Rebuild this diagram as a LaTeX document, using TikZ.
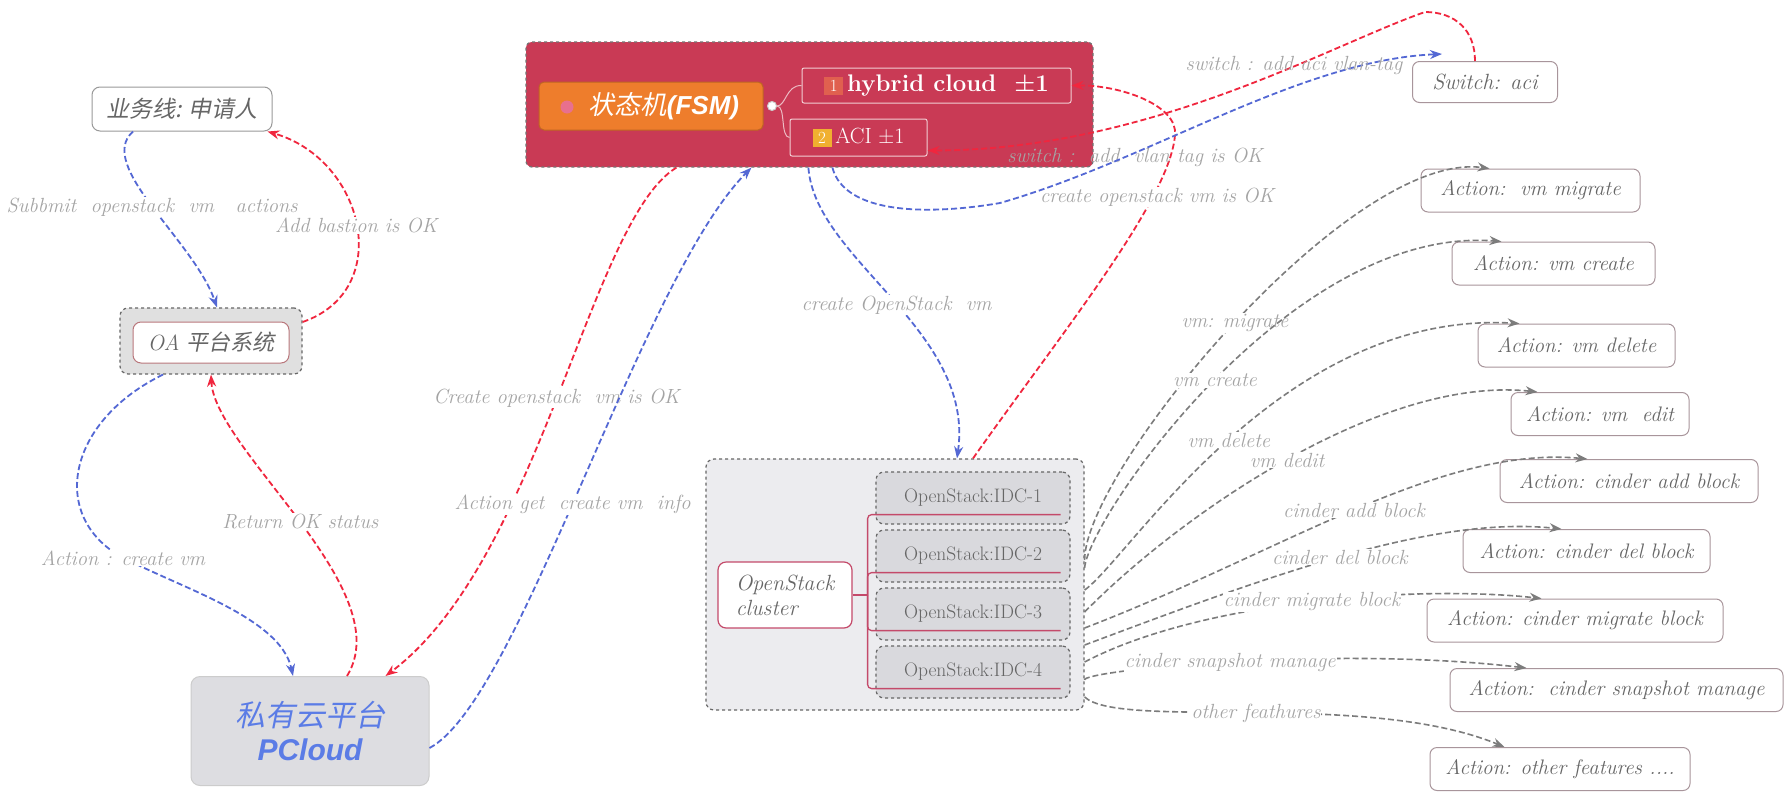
\documentclass[tikz,border=0pt]{standalone}
\usepackage{fontspec}
\newfontfamily\cjkit{Noto Sans CJK SC}[FakeSlant=0.2]
\newfontfamily\sansit{Liberation Sans}
\usetikzlibrary{arrows.meta,positioning}

\definecolor{fsmred}{HTML}{C93A55}
\definecolor{fsmorange}{HTML}{EE7D2C}
\definecolor{dotpink}{HTML}{E8708E}
\definecolor{tagone}{HTML}{E0604F}
\definecolor{tagtwo}{HTML}{F0B030}
\definecolor{linkred}{HTML}{F0263E}
\definecolor{linkblue}{HTML}{5468D4}
\definecolor{linkgray}{HTML}{7C7C7C}
\definecolor{lblgray}{HTML}{A4A4A4}
\definecolor{textgray}{HTML}{666666}
\definecolor{boxedge}{HTML}{A8959B}
\definecolor{idcfill}{HTML}{D9D9DD}
\definecolor{clfill}{HTML}{ECECEF}
\definecolor{pcfill}{HTML}{DDDDE1}
\definecolor{pcblue}{HTML}{5B7CE6}
\definecolor{branchred}{HTML}{C44A6A}

\newcommand{\numtag}[2]{{\setlength{\fboxsep}{3.5pt}\colorbox{#1}{\fontsize{17}{17}\selectfont\mdseries\color{white}\makebox[12pt]{#2}}}}

\begin{document}
\begin{tikzpicture}[x=1pt, y=-1pt,
  lbl/.style={text=lblgray, font=\fontsize{20.5}{22}\selectfont\itshape, inner sep=1pt},
  lblbg/.style={lbl, fill=white},
  act/.style={draw=boxedge, line width=1pt, fill=white, rounded corners=7pt, text=textgray,
    font=\fontsize{21}{23}\selectfont\itshape, minimum height=43pt, inner sep=2pt},
  plainbox/.style={draw=gray!80, line width=1pt, fill=white, rounded corners=8pt, text=textgray,
    font=\fontsize{23}{25}\selectfont, inner sep=2pt},
  dashbox/.style={draw=black!60, dashed, line width=1.2pt, rounded corners=8pt},
  idc/.style={dashbox, fill=idcfill, minimum width=194pt, minimum height=52pt, text=textgray,
    font=\fontsize{19.5}{21}\selectfont, inner sep=2pt},
  subtopic/.style={draw=white!75!fsmred, line width=1pt, rounded corners=2pt, text=white, inner sep=2pt},
  stem/.style={draw=white!65!fsmred, line width=1pt},
  branch/.style={draw=branchred, line width=1.3pt},
  link/.style={line width=1.8pt, dash pattern=on 6pt off 3pt, -{Stealth[length=12pt,width=9pt]}},
  redlink/.style={link, color=linkred},
  bluelink/.style={link, color=linkblue},
  graylink/.style={link, line width=1.6pt, color=linkgray}
]
\fill[white] (0,0) rectangle (1786,793);
\useasboundingbox (0,0) rectangle (1786,793);

% left column
\node[plainbox, minimum width=180pt, minimum height=44pt] (sub) at (182,109) {\cjkit 业务线: 申请人};
\node[dashbox, fill=black!12, minimum width=182pt, minimum height=66pt] (oa) at (211,341) {};
\node[plainbox, draw=boxedge!80!red, minimum width=156pt, minimum height=41pt, font=\fontsize{22}{24}\selectfont] (oain) at (211,342.5)
  {{\itshape OA} {\cjkit 平台系统}};
\node[draw=black!20, line width=1pt, fill=pcfill, rounded corners=9pt, minimum width=238pt, minimum height=109pt,
  align=center, text=pcblue, font=\fontsize{30}{34}\selectfont] (pc) at (310,731)
  {{\cjkit 私有云平台}\\{\sansit\bfseries\itshape PCloud}};

% state machine
\node[draw=black!55, dashed, line width=1.2pt, fill=fsmred, rounded corners=6pt,
  minimum width=567pt, minimum height=125pt] (fsm) at (809.5,104.5) {};
\node[draw=fsmorange!80!black, line width=1pt, fill=fsmorange, rounded corners=5pt, minimum width=224pt,
  minimum height=48pt, text=white, font=\fontsize{26}{28}\selectfont] (core) at (651,106)
  {\hspace*{26pt}{\cjkit 状态机}{\sansit\bfseries\itshape (FSM)}};
\node[circle, fill=dotpink, minimum size=13pt, inner sep=0pt] (dot) at (567,107) {};
\node[circle, draw=white!60!gray, fill=white, line width=1pt, minimum size=9pt, inner sep=0pt] (jn) at (772,106) {};
\node[subtopic, minimum width=269pt, minimum height=35pt, font=\fontsize{24}{26}\selectfont\bfseries] (hy) at (936.5,85.5)
  {\numtag{tagone}{1}\,hybrid cloud\ \ ±1};
\node[subtopic, minimum width=137pt, minimum height=37pt, font=\fontsize{22}{24}\selectfont] (aci) at (858.5,137.5)
  {\numtag{tagtwo}{2}\,ACI ±1};
\draw[stem] (jn.east) .. controls (786,106) and (786,85) .. (hy.west);
\draw[stem] (jn.east) .. controls (786,106) and (780,137) .. (aci.west);

% openstack cluster
\node[dashbox, fill=clfill, minimum width=378pt, minimum height=251pt] (osc) at (895,584.5) {};
\node[idc] (idc1) at (973,498) {OpenStack:IDC-1};
\node[idc] (idc2) at (973,556) {OpenStack:IDC-2};
\node[idc] (idc3) at (973,614) {OpenStack:IDC-3};
\node[idc] (idc4) at (973,672) {OpenStack:IDC-4};
\node[draw=branchred, line width=1.2pt, fill=white, rounded corners=8pt, minimum width=134pt, minimum height=66pt,
  align=left, text=textgray, font=\fontsize{22}{25}\selectfont\itshape] (oc) at (785,595) {OpenStack\\ cluster};
\draw[branch] (oc.east) -- ++(15,0) coordinate (trunk);
\draw[branch, rounded corners=4pt] (trunk) |- ([xshift=-10pt,yshift=10pt]idc1.south east);
\draw[branch, rounded corners=4pt] (trunk) |- ([xshift=-10pt,yshift=10pt]idc2.south east);
\draw[branch, rounded corners=4pt] (trunk) |- ([xshift=-10pt,yshift=10pt]idc3.south east);
\draw[branch, rounded corners=4pt] (trunk) |- ([xshift=-10pt,yshift=10pt]idc4.south east);

% switch and actions
\node[act, minimum width=145pt, minimum height=41pt, font=\fontsize{22}{24}\selectfont\itshape] (sw) at (1485,82) {Switch: aci};
\node[act, minimum width=219pt] (act1) at (1530.5,190.5) {Action:\ \ vm migrate};
\node[act, minimum width=203pt] (act2) at (1553.5,263.5) {Action: vm create};
\node[act, minimum width=197pt] (act3) at (1576.5,345.5) {Action: vm delete};
\node[act, minimum width=178pt] (act4) at (1600,414) {Action: vm\ \ edit};
\node[act, minimum width=258pt] (act5) at (1629,481) {Action: cinder add block};
\node[act, minimum width=247pt] (act6) at (1586.5,551) {Action: cinder del block};
\node[act, minimum width=296pt] (act7) at (1575,620.5) {Action: cinder migrate block};
\node[act, minimum width=333pt] (act8) at (1616.5,690) {Action:\ \ cinder snapshot manage};
\node[act, minimum width=260pt] (act9) at (1560,769) {Action: other features ....};

% left flows
\draw[bluelink] ([xshift=-49pt]sub.south) .. controls (95,165) and (194,241) .. ([xshift=6pt]oa.north)
  node[lblbg, pos=.5] (l-submit) {Subbmit\ \ openstack\ \ vm\ \ \ actions};
\draw[redlink] ([yshift=19pt]oa.east) .. controls (395,290) and (365,160) .. ([xshift=-5pt]sub.south east)
  node[lblbg, pos=.5] (l-bastion) {Add bastion is OK};
\draw[bluelink] ([xshift=-48pt]oa.south) .. controls (70,420) and (50,510) .. (115,553)
  node[lblbg] (l-createvm) at (123,558) {Action : create vm}
  .. controls (170,585) and (280,615) .. ([xshift=-17pt]pc.north);
\draw[redlink] ([xshift=37pt]pc.north) .. controls (400,590) and (215,450) .. (oa.south)
  node[lblbg, pos=.5] (l-return) {Return OK status};

% state machine flows
\draw[redlink] ([xshift=151pt]fsm.south west) .. controls (590,220) and (540,560) .. ([xshift=-44pt]pc.north east)
  node[lblbg, pos=.5] (l-pcok) {Create openstack\ \ vm is OK};
\draw[bluelink] ([yshift=-17pt]pc.east) .. controls (520,700) and (640,280) .. ([xshift=226pt]fsm.south west)
  node[lblbg, pos=.47] (l-getinfo) {Action get\ \ create vm\ \ info};
\draw[bluelink] ([xshift=283pt]fsm.south west) .. controls (815,260) and (975,330) .. ([xshift=62pt]osc.north)
  node[lblbg, pos=.52] (l-osvm) {create OpenStack\ \ vm};
\draw[redlink] ([xshift=78pt]osc.north) .. controls (1060,335) and (1170,200) .. (1175,135)
  node[lblbg] (l-osok) at (1157,197) {create openstack vm is OK}
  .. controls (1178,105) and (1120,85) .. (hy.east);
\draw[redlink] ([xshift=-10pt]sw.north) .. controls (1475,30) and (1455,12) .. (1425,12)
  .. controls (1330,45) and (1150,150) .. ([yshift=6pt]aci.south east);
\node[lbl] (l-vlanok) at (1135,157) {switch :\ \ add\ \ vlan tag is OK};
\draw[bluelink] ([xshift=307pt]fsm.south west) .. controls (845,215) and (930,215) .. (1000,203)
  .. controls (1150,160) and (1300,60) .. ([xshift=30pt,yshift=7pt]sw.north west);
\node[lbl] (l-vlantag) at (1294,65) {switch : add aci vlan-tag};

% action flows
\draw[graylink] ([yshift=24.5pt]osc.east) .. controls (1085,469) and (1350,150) .. ([xshift=69pt]act1.north west)
  node[lblbg, pos=.5] (l-migrate) {vm: migrate};
\draw[graylink] ([yshift=16.5pt]osc.east) .. controls (1088,519) and (1290,225) .. ([xshift=50pt]act2.north west)
  node[lblbg, pos=.5] (l-create) {vm create};
\draw[graylink] ([yshift=-5.5pt]osc.east) .. controls (1129,559) and (1280,310) .. ([xshift=42pt]act3.north west)
  node[lblbg, pos=.5] (l-delete) {vm delete};
\draw[graylink] ([yshift=-27.5pt]osc.east) .. controls (1178,517) and (1380,375) .. ([xshift=27pt]act4.north west)
  node[lblbg, pos=.5] (l-edit) {vm dedit};
\draw[graylink] ([yshift=-43.5pt]osc.east) .. controls (1280,553) and (1440,445) .. ([xshift=88pt]act5.north west)
  node[lblbg, pos=.5] (l-addblk) {cinder add block};
\draw[graylink] ([yshift=-60.5pt]osc.east) .. controls (1261,579) and (1430,515) .. ([xshift=99pt]act6.north west)
  node[lblbg, pos=.5] (l-delblk) {cinder del block};
\draw[graylink] ([yshift=-77.5pt]osc.east) .. controls (1203,600) and (1420,585) .. ([xshift=115pt]act7.north west)
  node[lblbg, pos=.5] (l-migblk) {cinder migrate block};
\draw[graylink] ([yshift=-95.5pt]osc.east) .. controls (1080,671) and (1330,645) .. ([xshift=77pt]act8.north west)
  node[lblbg, pos=.5] (l-snap) {cinder snapshot manage};
\draw[graylink] ([yshift=-112.5pt]osc.east) .. controls (1120,730) and (1366,690) .. ([xshift=75pt]act9.north west)
  node[lblbg, pos=.5] (l-other) {other feathures};
\end{tikzpicture}
\end{document}
